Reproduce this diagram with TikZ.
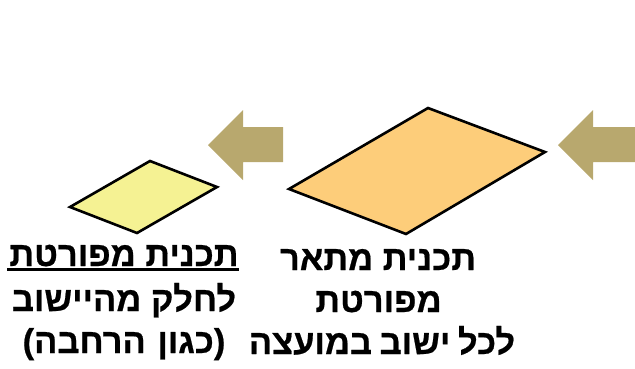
\documentclass[tikz,border=0pt]{standalone}
\usepackage{fontspec}
\newfontfamily\heb[Script=Hebrew,BoldFeatures={FakeBold=0.6}]{Liberation Sans}
\TeXXeTstate=1
\definecolor{khaki}{HTML}{B8A86E}
\definecolor{orangefill}{HTML}{FDCD7A}
\definecolor{yellowfill}{HTML}{F5F293}
\begin{document}
\begin{tikzpicture}[x=1pt,y=-1pt,
  blockarrow/.style={fill=khaki,draw=none},
  plot/.style={draw=black,line width=2.6pt,line join=miter},
  lbl/.style={font=\heb\bfseries\fontsize{34.5}{34.5}\selectfont,inner sep=0pt,anchor=base}]
\useasboundingbox (0,0) rectangle (635,368);
% arrows
\coordinate (a1tip) at (208,145);
\fill[blockarrow] (a1tip) -- (243,110) -- (243,127) -- (283,127) -- (283,162) -- (243,162) -- (243,180) -- cycle;
\coordinate (a2tip) at (558,145);
\fill[blockarrow] (a2tip) -- (593,110) -- (593,127) -- (635,127) -- (635,162) -- (593,162) -- (593,180) -- cycle;
% parallelograms
\coordinate (yl) at (70,207);
\coordinate (yt) at (150,161);
\coordinate (yr) at (217,187);
\coordinate (yb) at (137,233);
\draw[plot,fill=yellowfill] (yl) -- (yt) -- (yr) -- (yb) -- cycle;
\coordinate (ol) at (289,189);
\coordinate (ot) at (428,108);
\coordinate (or) at (545,152);
\coordinate (ob) at (406,234);
\draw[plot,fill=orangefill] (ol) -- (ot) -- (or) -- (ob) -- cycle;
% left text
\node[lbl] (l1) at (124,266) {\beginR תכנית מפורטת\endR};
\draw[line width=2.8pt] ([xshift=-2pt,yshift=-3.5pt]l1.base west) -- ([yshift=-3.5pt]l1.base east);
\node[lbl] (l2) at (124,311) {\beginR לחלק מהיישוב\endR};
\node[lbl] (l3) at (124,353) {\beginR (כגון\kern2pt{} הרחבה)\endR};
% right text
\node[lbl] (r1) at (378,270) {\beginR תכנית מתאר\endR};
\node[lbl] (r2) at (378.5,312) {\beginR מפורטת\endR};
\node[lbl] (r3) at (382,354) {\beginR לכל\kern-2pt{} ישוב\kern-2pt{} במועצה\endR};
\end{tikzpicture}
\end{document}
